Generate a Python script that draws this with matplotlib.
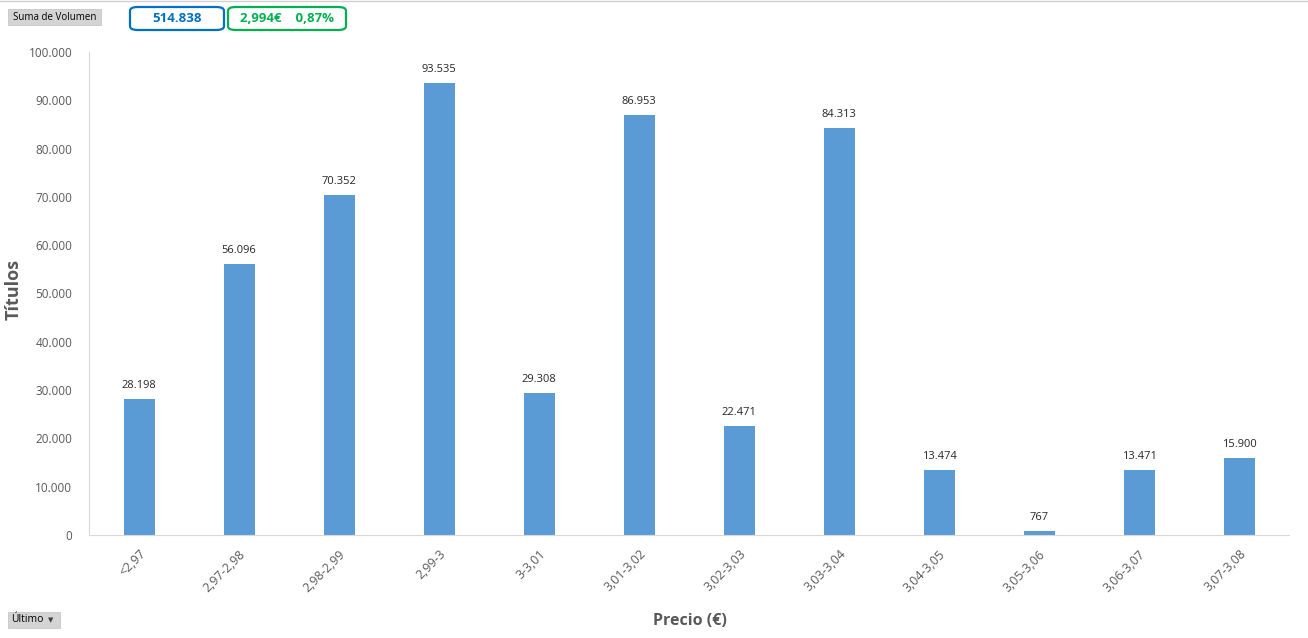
import matplotlib
matplotlib.use("Agg")
import matplotlib.pyplot as plt
from matplotlib.patches import FancyBboxPatch, Rectangle
from matplotlib.lines import Line2D

plt.rcParams["font.family"] = ["Open Sans", "DejaVu Sans"]

categories = ["<2,97", "2,97-2,98", "2,98-2,99", "2,99-3", "3-3,01", "3,01-3,02",
              "3,02-3,03", "3,03-3,04", "3,04-3,05", "3,05-3,06", "3,06-3,07", "3,07-3,08"]
volumes = [28198, 56096, 70352, 93535, 29308, 86953, 22471, 84313, 13474, 767, 13471, 15900]
y_ticks = [0, 10000, 20000, 30000, 40000, 50000, 60000, 70000, 80000, 90000, 100000]
total_label = "514.838"
price_label = "2,994€    0,87%"


def fmt(v):
    return f"{v:,.0f}".replace(",", ".")


W, H = 1308, 638
fig = plt.figure(figsize=(W / 100, H / 100), dpi=100)
fig.patch.set_facecolor("white")

ax = fig.add_axes([89 / W, (H - 535) / H, 1200 / W, 483 / H])
xs = range(len(categories))
ax.bar(xs, volumes, width=0.31, color="#5b9bd5", zorder=2)
for x, v in zip(xs, volumes):
    ax.text(x, v + 1700, fmt(v), ha="center", va="bottom", fontsize=8, color="#262626")

ax.set_xlim(-0.5, len(categories) - 0.5)
ax.set_ylim(0, 100000)
ax.set_yticks(y_ticks)
ax.set_yticklabels([fmt(t) for t in y_ticks])
ax.set_xticks(list(xs))
ax.set_xticklabels(categories, rotation=45, ha="right", rotation_mode="anchor")
ax.tick_params(axis="both", length=0, labelsize=8.5, colors="#595959")
ax.tick_params(axis="y", pad=12)
ax.tick_params(axis="x", pad=9, labelsize=9)
for s in ("top", "right"):
    ax.spines[s].set_visible(False)
ax.spines["left"].set_color("#d9d9d9")
ax.spines["bottom"].set_color("#d9d9d9")

fig.text(14 / W, 1 - 290 / H, "Títulos", rotation=90, ha="center", va="center",
         fontsize=13, fontweight="bold", color="#595959")
fig.text(690 / W, 1 - 621 / H, "Precio (€)", ha="center", va="center",
         fontsize=11.5, fontweight="bold", color="#595959")

# top border
fig.add_artist(Line2D([0, 1], [1 - 1 / H, 1 - 1 / H], color="#d0d0d0", lw=1))

# field buttons
fig.add_artist(Rectangle((8 / W, 1 - 25 / H), 93 / W, 16 / H, facecolor="#d4d4d4",
                         edgecolor="#c0c0c0", lw=0.5))
fig.text(54.5 / W, 1 - 17 / H, "Suma de Volumen", ha="center", va="center", fontsize=7, color="#000000")
fig.add_artist(Rectangle((8 / W, 1 - 628 / H), 52 / W, 16 / H, facecolor="#d4d4d4",
                         edgecolor="#c0c0c0", lw=0.5))
fig.text(11 / W, 1 - 620 / H, "Último", ha="left", va="center", fontsize=7.5, color="#000000")
fig.text(51 / W, 1 - 620 / H, "▼", ha="center", va="center", fontsize=5, color="#404040",
         family="DejaVu Sans")

# KPI boxes
fig.add_artist(FancyBboxPatch((130 / W, 1 - 30 / H), 94 / W, 23 / H,
                              boxstyle="round,pad=0,rounding_size=0.006",
                              facecolor="white", edgecolor="#0070c0", lw=1.6))
fig.text(177 / W, 1 - 18.5 / H, total_label, ha="center", va="center", fontsize=9.5,
         fontweight="bold", color="#0070c0")
fig.add_artist(FancyBboxPatch((228 / W, 1 - 30 / H), 118 / W, 23 / H,
                              boxstyle="round,pad=0,rounding_size=0.006",
                              facecolor="white", edgecolor="#00b050", lw=1.6))
fig.text(287 / W, 1 - 18.5 / H, price_label, ha="center", va="center", fontsize=9.5,
         fontweight="bold", color="#00b050")

fig.savefig("out.png", dpi=100, facecolor="white")
